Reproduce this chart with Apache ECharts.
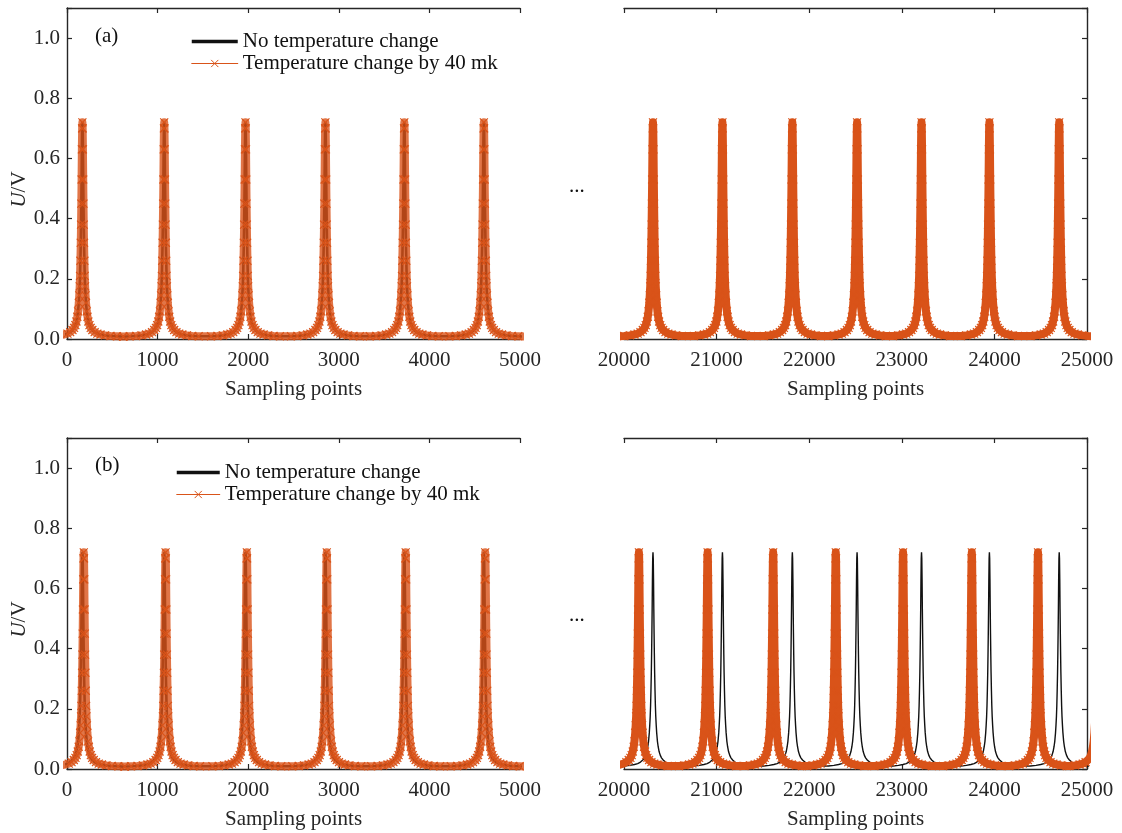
<!DOCTYPE html>
<html>
<head>
<meta charset="utf-8">
<title>Sampling points</title>
<script src="https://cdn.jsdelivr.net/npm/echarts@6/dist/echarts.min.js"></script>
<style>
  html, body { margin: 0; padding: 0; background: #fff; }
  #chart { width: 1122px; height: 833px; }
</style>
</head>
<body>
<div id="chart"></div>
<script>
// One resonance peak: offset from its centre (sampling points) -> voltage (V)
const peakOffsets = [0, 3, 6, 9, 12, 15, 18, 22, 26, 30, 35, 40, 48, 56, 66, 78, 92, 110, 135, 165, 200, 250, 310, 380, 450];
const peakValues  = [0.72, 0.70, 0.63, 0.53, 0.45, 0.38, 0.32, 0.26, 0.21, 0.175, 0.145, 0.12, 0.092, 0.074, 0.058, 0.046, 0.037, 0.030, 0.023, 0.018, 0.015, 0.012, 0.010, 0.009, 0.008];

// Peak centres (sampling points) in each window
const startRefPeaks    = [170, 1073, 1970, 2852, 3723, 4601];          // 0 – 5000, no temperature change
const startDriftPeaksA = [170, 1073, 1970, 2852, 3723, 4601];          // (a) 0 – 5000, 40 mK change
const startDriftPeaksB = [185, 1088, 1985, 2867, 3738, 4616];          // (b) 0 – 5000, 40 mK change
const endRefPeaks      = [20313, 21063, 21818, 22517, 23213, 23946, 24700];        // 20000 – 25000, no change
const endDriftPeaksA   = [20313, 21063, 21818, 22517, 23213, 23946, 24700];        // (a) 20000 – 25000, 40 mK
const endDriftPeaksB   = [20161, 20903, 21611, 22287, 23014, 23756, 24471, 25120]; // (b) 20000 – 25000, 40 mK

// Axis ticks
const startTicks = [0, 1000, 2000, 3000, 4000, 5000];
const endTicks   = [20000, 21000, 22000, 23000, 24000, 25000];
const voltTicks  = [0.0, 0.2, 0.4, 0.6, 0.8, 1.0];

const NAME_REF   = 'No temperature change';
const NAME_DRIFT = 'Temperature change by 40 mk';
const ORANGE = '#D95319';
const INK = '#262626';
const FONT = '"Liberation Serif", "Times New Roman", serif';
const X_MARK = 'path://M0,0L10,10M10,0L0,10';

// Place the peak shape at every centre; each sample belongs to its nearest peak
function buildTrace(centres) {
  const pts = [];
  centres.forEach((c, i) => {
    const lo = i > 0 ? (c + centres[i - 1]) / 2 : -Infinity;
    const hi = i < centres.length - 1 ? (c + centres[i + 1]) / 2 : Infinity;
    for (let k = peakOffsets.length - 1; k >= 1; k--) {
      const x = c - peakOffsets[k];
      if (x > lo) pts.push([x, peakValues[k]]);
    }
    pts.push([c, peakValues[0]]);
    for (let k = 1; k < peakOffsets.length; k++) {
      const x = c + peakOffsets[k];
      if (x < hi) pts.push([x, peakValues[k]]);
    }
  });
  return pts;
}

const panels = [
  { grid: { left: 67,  top: 8,   width: 453, height: 331 }, ticks: startTicks, ref: startRefPeaks, drift: startDriftPeaksA, leftSide: true },
  { grid: { left: 624, top: 8,   width: 463, height: 331 }, ticks: endTicks,   ref: endRefPeaks,   drift: endDriftPeaksA,   leftSide: false },
  { grid: { left: 67,  top: 438, width: 453, height: 331 }, ticks: startTicks, ref: startRefPeaks, drift: startDriftPeaksB, leftSide: true },
  { grid: { left: 624, top: 438, width: 463, height: 331 }, ticks: endTicks,   ref: endRefPeaks,   drift: endDriftPeaksB,   leftSide: false }
];

const grid = [], xAxis = [], yAxis = [], series = [];
panels.forEach((p, g) => {
  grid.push(p.grid);
  const xMin = p.ticks[0], xMax = p.ticks[p.ticks.length - 1];
  const tickStyle = { show: true, inside: true, length: 5, lineStyle: { color: INK, width: 1.2 } };
  const lineStyle = { show: true, onZero: false, lineStyle: { color: INK, width: 1.4 } };
  xAxis.push({
    type: 'value', gridIndex: g, position: 'bottom', min: xMin, max: xMax, interval: 1000,
    axisLine: lineStyle, axisTick: tickStyle, splitLine: { show: false },
    axisLabel: { color: INK, fontFamily: FONT, fontSize: 21, margin: 11,
                 formatter: v => p.ticks.indexOf(v) >= 0 ? String(v) : '' },
    name: 'Sampling points', nameLocation: 'middle', nameGap: 40,
    nameTextStyle: { color: INK, fontFamily: FONT, fontSize: 21 }
  });
  xAxis.push({
    type: 'value', gridIndex: g, position: 'top', min: xMin, max: xMax, interval: 1000,
    axisLine: lineStyle, axisTick: tickStyle, axisLabel: { show: false }, splitLine: { show: false }
  });
  yAxis.push({
    type: 'value', gridIndex: g, position: 'left', min: 0, max: 1.1, interval: 0.2,
    axisLine: Object.assign({}, lineStyle, { show: p.leftSide }),
    axisTick: Object.assign({}, tickStyle, { show: p.leftSide }),
    axisLabel: { show: p.leftSide, color: INK, fontFamily: FONT, fontSize: 21, margin: 7,
                 formatter: v => {
                   const t = voltTicks.find(u => Math.abs(u - v) < 1e-9);
                   return t === undefined ? '' : t.toFixed(1);
                 } },
    splitLine: { show: false },
    name: p.leftSide ? '{i|U}/V' : '', nameLocation: 'middle', nameGap: 32, nameRotate: 90,
    nameTextStyle: { color: INK, fontFamily: FONT, fontSize: 21, padding: [0, 32, 0, 0],
                     rich: { i: { fontStyle: 'italic', fontFamily: FONT, fontSize: 21, color: INK } } }
  });
  yAxis.push({
    type: 'value', gridIndex: g, position: 'right', min: 0, max: 1.1, interval: 0.2,
    axisLine: Object.assign({}, lineStyle, { show: !p.leftSide }),
    axisTick: Object.assign({}, tickStyle, { show: !p.leftSide }),
    axisLabel: { show: false }, splitLine: { show: false }
  });

  series.push({
    name: NAME_REF, type: 'line', xAxisIndex: 2 * g, yAxisIndex: 2 * g,
    data: buildTrace(p.ref), symbol: 'none', clip: true, z: 2,
    itemStyle: { color: '#111' },
    lineStyle: { color: '#111', width: p.leftSide ? 2.6 : 1.4 }
  });
  series.push({
    name: NAME_DRIFT, type: 'line', xAxisIndex: 2 * g, yAxisIndex: 2 * g,
    data: buildTrace(p.drift), symbol: X_MARK, symbolSize: 8, showSymbol: true, clip: true, z: 3,
    itemStyle: { color: 'rgba(0,0,0,0)', borderColor: ORANGE, borderWidth: 1.2 },
    lineStyle: { color: ORANGE, width: 8, opacity: p.leftSide ? 0.8 : 1, join: 'round', cap: 'round' }
  });
});

function legendAt(left, top, iconWidth) {
  return {
    left: left, top: top, orient: 'vertical', itemWidth: iconWidth, itemHeight: 9, itemGap: 1,
    padding: 0, selectedMode: false,
    textStyle: { color: '#111', fontFamily: FONT, fontSize: 21 },
    data: [
      { name: NAME_REF, itemStyle: { color: '#111', opacity: 0 }, lineStyle: { color: '#111', width: 3.5 } },
      { name: NAME_DRIFT, lineStyle: { color: ORANGE, width: 1, opacity: 1 },
        itemStyle: { color: 'rgba(0,0,0,0)', borderColor: ORANGE, borderWidth: 1 } }
    ]
  };
}

const textStyle = { fill: '#111', font: '21px ' + FONT };
const chart = echarts.init(document.getElementById('chart'), null, { renderer: 'canvas' });
chart.setOption({
  animation: false,
  backgroundColor: '#fff',
  grid: grid,
  xAxis: xAxis,
  yAxis: yAxis,
  series: series,
  legend: [legendAt(190, 31, 46), legendAt(175, 462, 43)],
  graphic: [
    { type: 'text', left: 95, top: 26, style: Object.assign({ text: '(a)' }, textStyle) },
    { type: 'text', left: 95, top: 455, style: Object.assign({ text: '(b)' }, textStyle) },
    { type: 'text', left: 569, top: 176, style: Object.assign({ text: '...' }, textStyle) },
    { type: 'text', left: 569, top: 605, style: Object.assign({ text: '...' }, textStyle) }
  ]
});
</script>
</body>
</html>
